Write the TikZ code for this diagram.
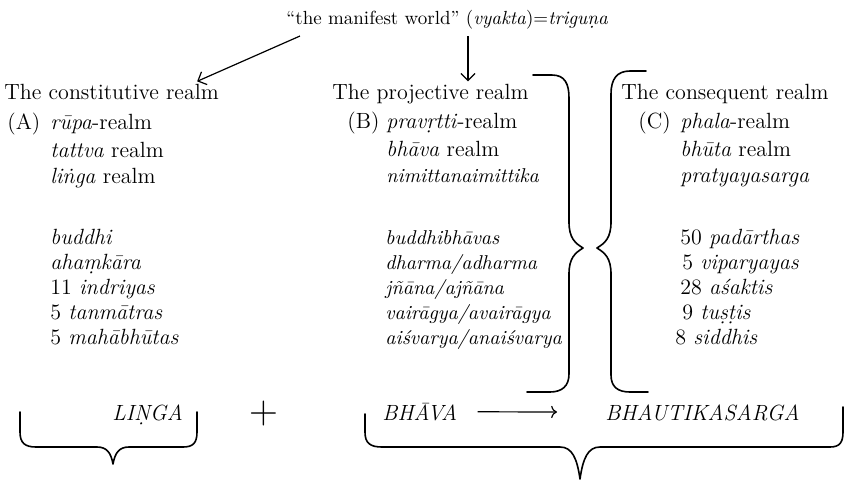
\documentclass[tikz,border=0pt]{standalone}
\usetikzlibrary{arrows.meta}

\tikzset{
  txt/.style={inner sep=0pt, anchor=base west, font=\fontsize{11}{13}\selectfont},
  skr/.style={txt, font=\fontsize{11}{13}\selectfont\itshape},
  skrB/.style={txt, font=\fontsize{10}{12}\selectfont\itshape},
  brace/.style={thick, line join=round, line cap=round},
  barb/.style={-{Straight Barb[length=3.5pt,width=7pt]}, semithick},
}

\begin{document}
\begin{tikzpicture}[x=0.5pt, y=-0.5pt]
\useasboundingbox (0,0) rectangle (847,484);

%% ---- Titolo e frecce ----
\node[txt, font=\fontsize{9.5}{11}\selectfont] (world) at (286,24)
  {“the manifest world” (\textit{vyakta})=\textit{triguṇa}};
\node[txt] (consti) at (4,99)   {The constitutive realm};
\node[txt] (proj)   at (332,99) {The projective realm};
\node[txt] (conseq) at (621,99) {The consequent realm};
\coordinate (ma) at (300,36);
\coordinate (vy) at (468,36);
\draw[barb] (ma) -- ([shift={(-22,-2)}]consti.north east);
\draw[barb] (vy) -- ([yshift=1pt]proj.north -| vy);

%% ---- Colonna A ----
\node[txt] (A)      at (7,129)  {(A)};
\node[txt] (rupa)   at (50,129) {\textit{rūpa}-realm};
\node[txt] (tattva) at (50,157) {\textit{tattva} realm};
\node[txt] (linga)  at (50,183) {\textit{liṅga} realm};
\foreach \w [count=\i] in {\textit{buddhi}, \textit{ahaṃkāra}, 11\ \textit{indriyas},
    5\ \textit{tanmātras}, 5\ \textit{mahābhūtas}}
  \node[txt] (colA-\i) at (50,{244+25*(\i-1)}) {\w};

%% ---- Colonna B ----
\node[txt] (B)        at (347,128) {(B)};
\node[skr] (pravrtti) at (386,128) {pravṛtti\textup{-realm}};
\node[txt] (bhavarl)  at (386,156) {\textit{bhāva} realm};
\node[skrB] (nimitta) at (386,182) {nimittanaimittika};
\foreach \w [count=\i] in {buddhibhāvas, dharma/adharma, jñāna/ajñāna,
    vairāgya/avairāgya, aiśvarya/anaiśvarya}
  \node[skrB] (colB-\i) at (385,{244+25*(\i-1)}) {\w};

%% ---- Colonna C ----
\node[txt] (C)      at (638,128) {(C)};
\node[txt] (phala)  at (680,128) {\textit{phala}-realm};
\node[txt] (bhuta)  at (680,156) {\textit{bhūta} realm};
\node[skr] (pratya) at (680,182) {pratyayasarga};
\foreach \w/\x [count=\i] in {50\ \textit{padārthas}/680, 5\ \textit{viparyayas}/682,
    28\ \textit{aśaktis}/680, 9\ \textit{tuṣṭis}/682, 8\ \textit{siddhis}/675}
  \node[txt] (colC-\i) at (\x,{244+25*(\i-1)}) {\w};

%% ---- Graffe centrali ----
\draw[brace] (533,75) -- (552,75) .. controls (565,75) and (569,84) .. (569,98)
  -- (569,222) .. controls (569,238) and (575,243) .. (583,248)
  .. controls (575,253) and (569,258) .. (569,274)
  -- (569,374) .. controls (569,386) and (562,392) .. (550,392) -- (527,392);
\draw[brace] (646,71) -- (630,71) .. controls (617,71) and (611,79) .. (611,94)
  -- (611,222) .. controls (611,238) and (605,243) .. (597,248)
  .. controls (605,253) and (611,258) .. (611,274)
  -- (611,375) .. controls (611,387) and (618,392) .. (630,392) -- (648,392);

%% ---- Riga in basso ----
\node[skr] (linga-b)  at (112,420) {LIṆGA};
\node[txt, font=\fontsize{20}{20}\selectfont] (plus) at (249,423) {+};
\node[skr] (bhava)    at (382,420) {BHĀVA};
\node[skr] (bhautika) at (605,420) {BHAUTIKASARGA};
\draw[->, semithick, shorten <=10pt, shorten >=24pt] (bhava) -- (bhautika);

\draw[brace] (20,412) -- (20,432) .. controls (20,443) and (25,447) .. (36,447)
  -- (97,447) .. controls (107,447) and (111,453) .. (113,464)
  .. controls (115,453) and (119,447) .. (129,447)
  -- (183,447) .. controls (193,447) and (197,443) .. (197,432) -- (197,412);
\draw[brace] (365,414) -- (365,432) .. controls (365,443) and (370,447) .. (382,447)
  -- (560,447) .. controls (572,447) and (577,458) .. (580,479)
  .. controls (583,458) and (588,447) .. (600,447)
  -- (830,447) .. controls (840,447) and (843,442) .. (843,432) -- (843,407);

\end{tikzpicture}
\end{document}
